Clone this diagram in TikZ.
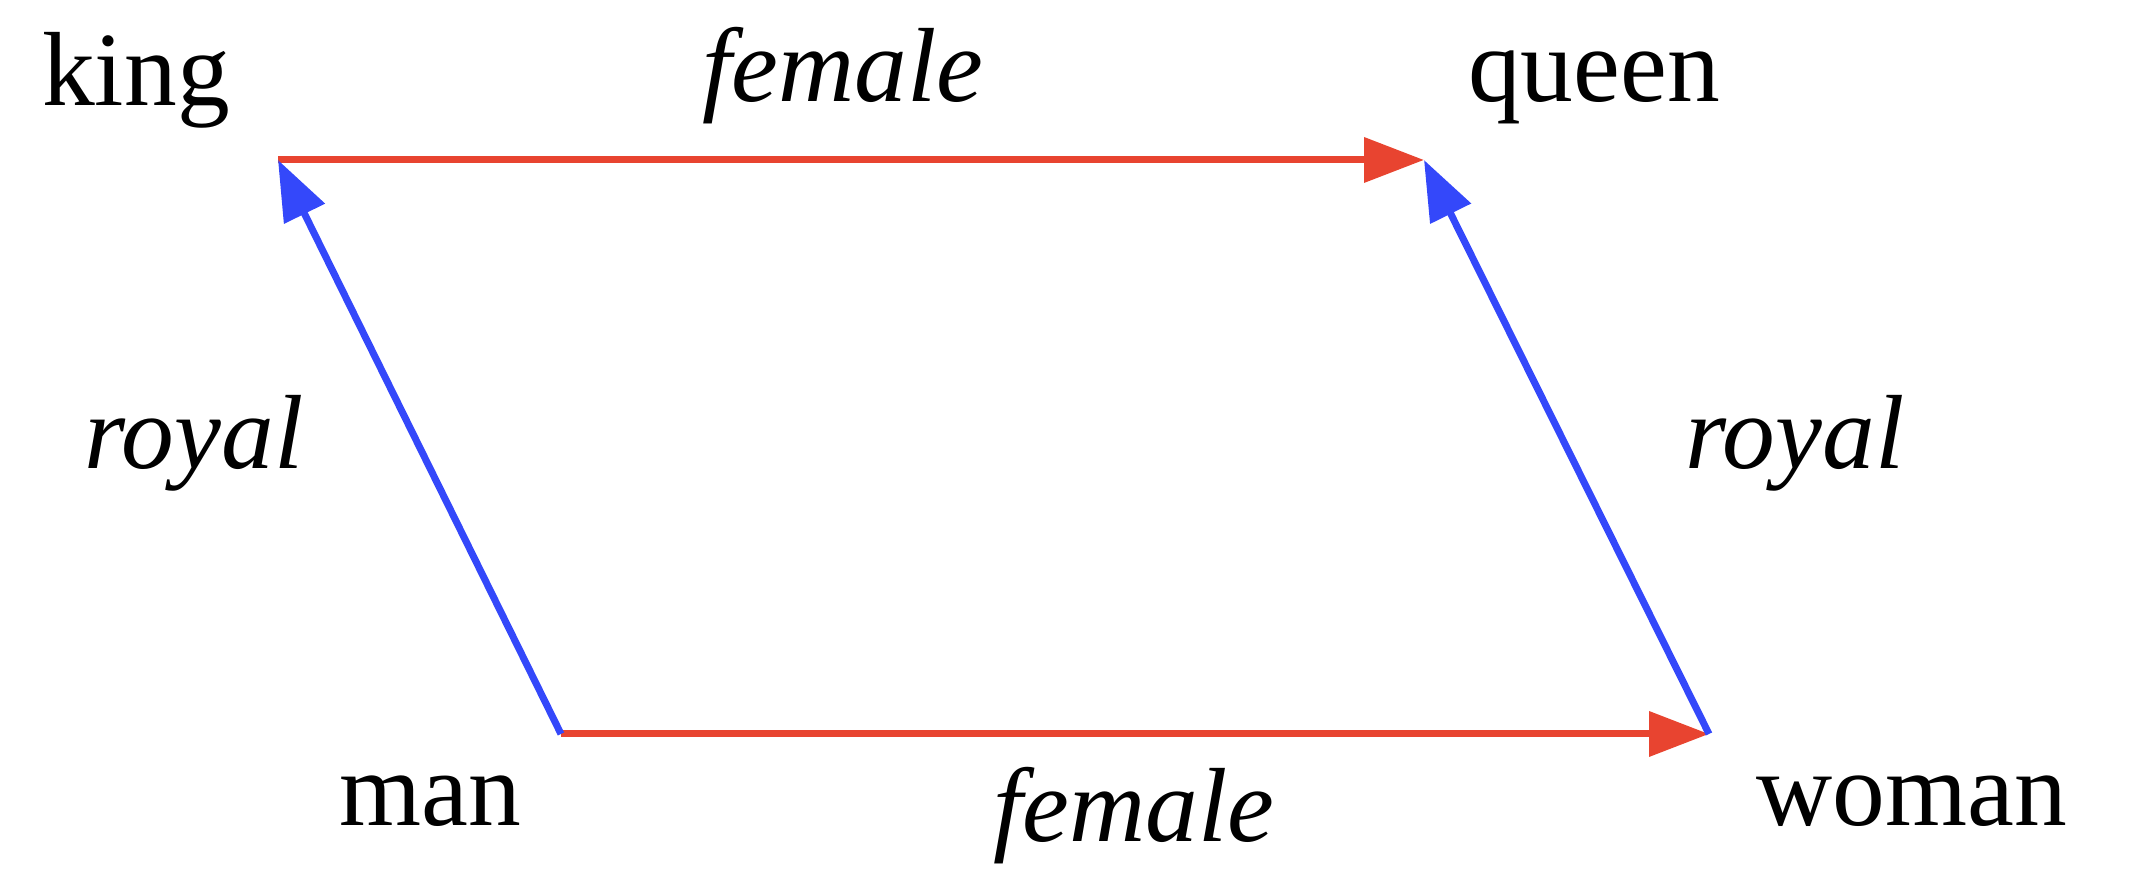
\documentclass[tikz,border=0pt]{standalone}
\usepackage{fontspec}
\setmainfont{Liberation Serif}
\usepackage{xcolor}
\usepackage{tikz}
\usetikzlibrary{positioning, arrows.meta}

\definecolor{femalered}{RGB}{232,68,48}
\definecolor{royalblue}{RGB}{52,72,250}

\begin{document}
\begin{tikzpicture}[
  font=\fontsize{30}{36}\selectfont,
  word/.style={inner sep=0pt, anchor=base},
  rel/.style={word, font=\fontsize{30}{36}\selectfont\itshape},
  femalearrow/.style={draw=femalered, line width=2pt,
                      -{Triangle[length=6mm, width=4.4mm]}},
  royalarrow/.style={draw=royalblue, line width=2pt,
                     -{Triangle[length=6mm, width=4.4mm]}}
]
\useasboundingbox (0,0) rectangle (21.3,8.73);

% corners of the parallelogram
\coordinate (kingpt)  at (2.78, 7.13);
\coordinate (queenpt) at (14.24, 7.13);
\coordinate (manpt)   at (5.61, 1.39);
\coordinate (womanpt) at (17.09, 1.39);

% words
\node[word] (king)  at (1.36, 7.67)  {king};
\node[word] (queen) at (15.94, 7.71) {queen};
\node[word] (man)   at (4.30, 0.47)  {man};
\node[word] (woman) at (19.12, 0.47) {woman};

% offsets
\node[rel] (ftop)   at (8.43, 7.71)  {female};
\node[rel] (fbot)   at (11.34, 0.31) {female};
\node[rel] (rleft)  at (1.94, 4.04)  {royal};
\node[rel] (rright) at (17.95, 4.04) {royal};

\draw[femalearrow] (kingpt) -- (queenpt);
\draw[femalearrow] (manpt) -- (womanpt);
\draw[royalarrow] (manpt) -- (kingpt);
\draw[royalarrow] (womanpt) -- (queenpt);
\end{tikzpicture}
\end{document}
